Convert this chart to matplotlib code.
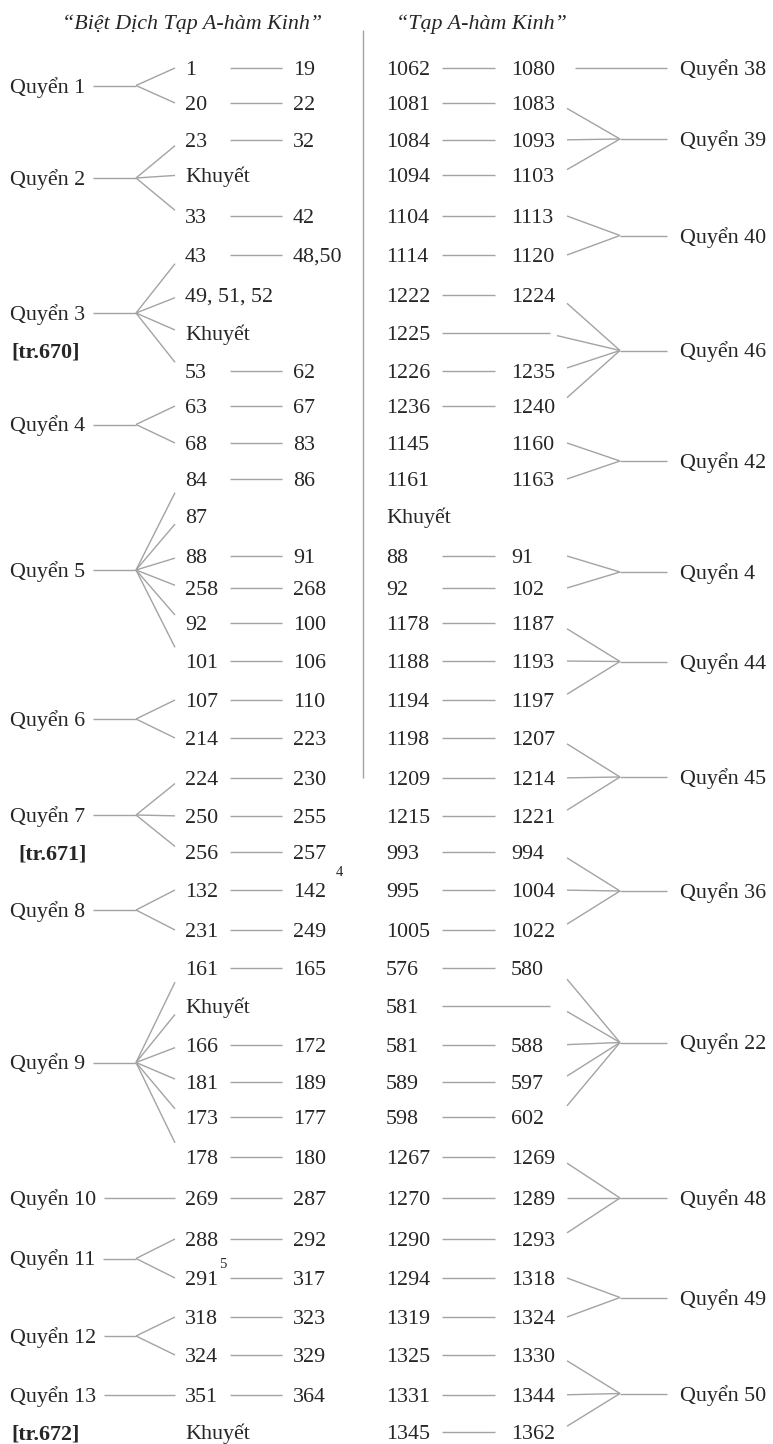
import matplotlib
matplotlib.use("Agg")
import matplotlib.pyplot as plt

# ---- data: sutra numbers in both collections ----
left_start = ["1", "20", "23", "Khuyết", "33", "43", "49, 51, 52", "Khuyết", "53", "63",
              "68", "84", "87", "88", "258", "92", "101", "107", "214", "224",
              "250", "256", "132", "231", "161", "Khuyết", "166", "181", "173", "178",
              "269", "288", "291", "318", "324", "351", "Khuyết"]
left_end = ["19", "22", "32", "", "42", "48,50", "", "", "62", "67",
            "83", "86", "", "91", "268", "100", "106", "110", "223", "230",
            "255", "257", "142", "249", "165", "", "172", "189", "177", "180",
            "287", "292", "317", "323", "329", "364", ""]

right_start = ["1062", "1081", "1084", "1094", "1104", "1114", "1222", "1225", "1226", "1236",
               "1145", "1161", "Khuyết", "88", "92", "1178", "1188", "1194", "1198", "1209",
               "1215", "993", "995", "1005", "576", "581", "581", "589", "598", "1267",
               "1270", "1290", "1294", "1319", "1325", "1331", "1345"]
right_end = ["1080", "1083", "1093", "1103", "1113", "1120", "1224", "", "1235", "1240",
             "1160", "1163", "", "91", "102", "1187", "1193", "1197", "1207", "1214",
             "1221", "994", "1004", "1022", "580", "", "588", "597", "602", "1269",
             "1289", "1293", "1318", "1324", "1330", "1344", "1362"]
right_no_dash = [10, 11]

left_books = ["Quyển 1", "Quyển 2", "Quyển 3", "Quyển 4", "Quyển 5", "Quyển 6", "Quyển 7",
              "Quyển 8", "Quyển 9", "Quyển 10", "Quyển 11", "Quyển 12", "Quyển 13"]
left_first = [0, 2, 5, 9, 11, 17, 19, 22, 24, 30, 31, 33, 35]
left_last = [1, 4, 8, 10, 16, 18, 21, 23, 29, 30, 32, 34, 35]
left_pages = {"Quyển 3": "[tr.670]", "Quyển 7": "[tr.671]", "Quyển 13": "[tr.672]"}

right_books = ["Quyển 38", "Quyển 39", "Quyển 40", "Quyển 46", "Quyển 42", "Quyển 4", "Quyển 44",
               "Quyển 45", "Quyển 36", "Quyển 22", "Quyển 48", "Quyển 49", "Quyển 50"]
right_first = [0, 1, 4, 6, 10, 13, 15, 18, 21, 24, 29, 32, 34]
right_last = [0, 3, 5, 9, 11, 14, 17, 20, 23, 28, 31, 33, 36]

titles = ["“Biệt Dịch Tạp A-hàm Kinh”", "“Tạp A-hàm Kinh”"]
footnotes = ["4", "5"]

# ---- layout (pixels) ----
W, H = 773, 1444
row_y = [68, 103, 140, 175, 216, 255, 295, 333, 371, 406, 443, 479, 516, 556, 588, 623,
         661, 700, 738, 778, 816, 852, 890, 930, 968, 1006, 1045, 1082, 1117, 1157, 1198,
         1239, 1278, 1317, 1355, 1395, 1432]
FONT = "Liberation Serif"
FS = 15.8
INK = "#262626"
LINE = "#a3a3a3"
LW = 1.0
BASE = 7  # baseline sits this far below the row centre

fig = plt.figure(figsize=(W / 100, H / 100), dpi=100)
ax = fig.add_axes([0, 0, 1, 1])
ax.set_xlim(0, W)
ax.set_ylim(H, 0)
ax.axis("off")
renderer = fig.canvas.get_renderer()


def put(x, y, s, **kw):
    return ax.text(x, y + BASE, s, fontsize=FS, family=FONT, color=INK,
                   va="baseline", ha="left", **kw)


def seg(x0, y0, x1, y1):
    ax.plot([x0, x1], [y0, y1], color=LINE, lw=LW, solid_capstyle="butt")


def text_end(t):
    bb = t.get_window_extent(renderer)
    return ax.transData.inverted().transform((bb.x1, bb.y0))[0]


def tip(ry, ly, n):
    # outer branches stop a bit short of their row in bigger fans
    if n <= 2:
        return ry
    return ry + 0.15 * (ly - ry)


# headers + separator
ax.text(192, 29, titles[0], fontsize=FS, family=FONT, style="italic", color=INK,
        ha="center", va="baseline")
ax.text(481, 29, titles[1], fontsize=FS, family=FONT, style="italic", color=INK,
        ha="center", va="baseline")
seg(363, 30, 363, 778)

# rows
for i, y in enumerate(row_y):
    put(185, y, left_start[i])
    if left_end[i]:
        seg(230, y, 282, y)
        put(293, y, left_end[i])

    put(386, y, right_start[i])
    if right_end[i]:
        if i not in right_no_dash:
            seg(442, y, 495, y)
        put(511, y, right_end[i])
    elif right_start[i] != "Khuyết":
        seg(442, y, 550, y)

# left fans
for book, a, b in zip(left_books, left_first, left_last):
    ly = (row_y[a] + row_y[b]) / 2
    t = put(10, ly, book)
    x0 = text_end(t) + 8
    n = b - a + 1
    if n == 1:
        seg(x0, ly, 175, ly)
    else:
        seg(x0, ly, 136, ly)
        for r in range(a, b + 1):
            seg(136, ly, 175, tip(row_y[r], ly, n))
    if book in left_pages:
        px = 18 if book == "Quyển 7" else 11
        put(px, ly + 38, left_pages[book], weight="bold")

# right fans
for book, a, b in zip(right_books, right_first, right_last):
    ly = (row_y[a] + row_y[b]) / 2
    n = b - a + 1
    if n == 1:
        seg(575, ly, 667, ly)
    else:
        for r in range(a, b + 1):
            start = 557 if right_start[r] == "1225" else 567
            seg(start, tip(row_y[r], ly, n), 620, ly)
        seg(620, ly, 667, ly)
    put(680, ly, book)

# footnote marks
ax.text(336, 876, footnotes[0], fontsize=10.5, family=FONT, color=INK, va="baseline")
ax.text(219, 1268, footnotes[1], fontsize=10.5, family=FONT, color=INK, va="baseline")

fig.savefig("out.png", dpi=100)
